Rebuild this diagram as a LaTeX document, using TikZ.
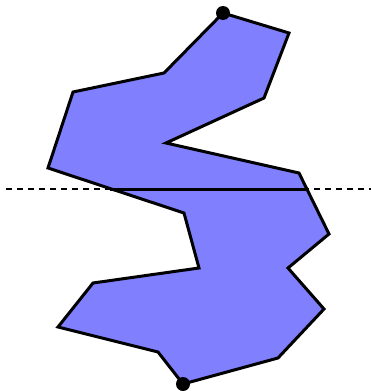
\documentclass[tikz,border=0pt]{standalone}
\begin{document}
\begin{tikzpicture}[x=1pt,y=-1pt,
  poly/.style={fill=blue!50,draw=black,line width=3pt,line join=miter},
  cut/.style={draw=black,line width=3pt},
  axis/.style={draw=black,line width=1.6pt,dash pattern=on 6pt off 5pt},
  enddot/.style={fill=black}]
\useasboundingbox (0,0) rectangle (371,391);
\draw[poly] (223,13) -- (289,33) -- (264,98) -- (166,143) -- (299,173) -- (329,234)
  -- (288,268) -- (324,309) -- (278,358) -- (183,384) -- (158,352) -- (58,327)
  -- (93,283) -- (199,268) -- (184,213) -- (48,168) -- (73,92) -- (164,73) -- cycle;
\coordinate (cl) at (110,189);
\coordinate (cr) at (307,189);
\draw[cut] (cl) -- (cr);
\coordinate (al) at (6,189);
\coordinate (ar) at (371,189);
\draw[axis] (al) -- (ar);
\fill[enddot] (223,13) circle (7);
\fill[enddot] (183,384) circle (7);
\end{tikzpicture}
\end{document}
